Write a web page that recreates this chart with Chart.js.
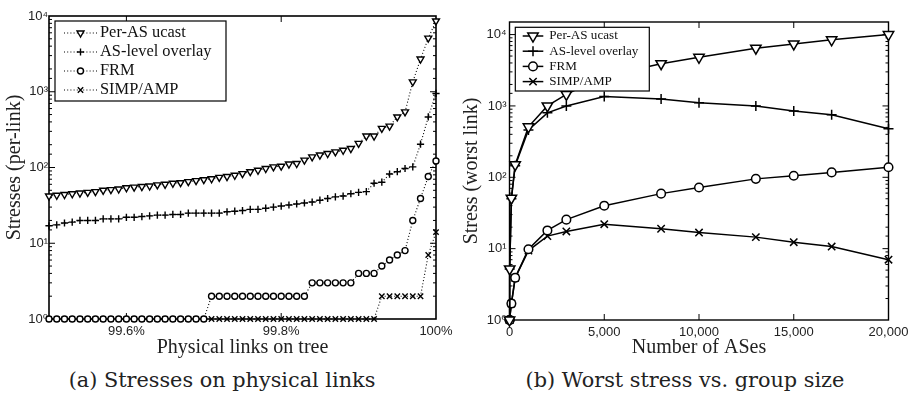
<!DOCTYPE html>
<html>
<head>
<meta charset="utf-8">
<script src="https://cdn.jsdelivr.net/npm/chart.js@4/dist/chart.umd.min.js"></script>
<style>
  body { margin: 0; width: 916px; height: 397px; background: #fff; position: relative; overflow: hidden; }
  canvas { position: absolute; top: 0; }
  .cap {
    position: absolute; top: 368px; transform: translateX(-50%);
    font: 20.8px 'DejaVu Serif', serif; line-height: 24px; color: #222; white-space: nowrap;
  }
</style>
</head>
<body>
<canvas id="chart-links" width="458" height="360" style="left:0"></canvas>
<canvas id="chart-size" width="458" height="360" style="left:458px"></canvas>
<div class="cap" style="left:222px">(a) Stresses on physical links</div>
<div class="cap" style="left:685px">(b) Worst stress vs. group size</div>
<script>
/* ── data: (a) per-link stress, sorted links ── */
const linkPct = [
  99.50, 99.51, 99.52, 99.53, 99.54, 99.55, 99.56, 99.57, 99.58, 99.59,
  99.60, 99.61, 99.62, 99.63, 99.64, 99.65, 99.66, 99.67, 99.68, 99.69,
  99.70, 99.71, 99.72, 99.73, 99.74, 99.75, 99.76, 99.77, 99.78, 99.79,
  99.80, 99.81, 99.82, 99.83, 99.84, 99.85, 99.86, 99.87, 99.88, 99.89,
  99.90, 99.91, 99.92, 99.93, 99.94, 99.95, 99.96, 99.97, 99.98, 99.99, 100.00
];
const perAsLinks = [
  42, 43, 44, 45, 46, 47, 48, 50, 51, 52,
  54, 55, 56, 57, 59, 60, 62, 63, 65, 67,
  69, 71, 74, 76, 79, 83, 88, 92, 97, 102,
  104, 111, 113, 125, 138, 146, 153, 161, 169, 178,
  208, 260, 260, 328, 352, 465, 543, 1350, 2700, 5100, 8600
];
const asLevelLinks = [
  17, 17.5, 18.5, 19, 20, 20, 20, 21, 21, 21,
  22, 22, 22.5, 23, 23.5, 23.5, 24, 24, 25, 25,
  25, 25, 25, 26, 26.5, 27, 28, 28, 29, 30,
  31, 32, 33, 34, 35, 37, 39, 41, 42, 45,
  47, 48, 62, 64, 82, 88, 97, 102, 203, 465, 950
];
const frmLinks = [
  1, 1, 1, 1, 1, 1, 1, 1, 1, 1,
  1, 1, 1, 1, 1, 1, 1, 1, 1, 1,
  1, 2, 2, 2, 2, 2, 2, 2, 2, 2,
  2, 2, 2, 2, 3, 3, 3, 3, 3, 3,
  4, 4, 4, 5, 6, 7, 8, 20, 39, 76, 122
];
const simpLinks = [
  1, 1, 1, 1, 1, 1, 1, 1, 1, 1,
  1, 1, 1, 1, 1, 1, 1, 1, 1, 1,
  1, 1, 1, 1, 1, 1, 1, 1, 1, 1,
  1, 1, 1, 1, 1, 1, 1, 1, 1, 1,
  1, 1, 1, 2, 2, 2, 2, 2, 2, 7, 14
];
const linkTicks = [99.6, 99.8, 100];

/* ── data: (b) worst link vs. number of ASes ── */
const numAses      = [1, 10, 100, 300, 1000, 2000, 3000, 5000, 8000, 10000, 13000, 15000, 17000, 20000];
const perAsWorst   = [1, 5.2, 51, 150, 510, 1000, 1450, 2600, 3900, 4800, 6450, 7400, 8450, 10000];
const asLevelWorst = [1, 5.2, 50, 145, 460, 800, 1000, 1350, 1250, 1110, 1000, 850, 750, 480];
const frmWorst     = [1, 1, 1.7, 3.9, 9.8, 18, 25.5, 40, 59, 72, 95, 105, 117, 138];
const simpWorst    = [1, 1, 1.7, 3.9, 9.4, 15, 17.4, 22, 19, 16.8, 14.5, 12.3, 10.7, 7];
const sizeTicks    = [0, 5000, 10000, 15000, 20000];

const seriesNames = ['Per-AS ucast', 'AS-level overlay', 'FRM', 'SIMP/AMP'];

Chart.defaults.font.family = '"Liberation Sans", "DejaVu Sans", sans-serif';
Chart.defaults.color = '#222';

const SUP = ['\u2070', '\u00b9', '\u00b2', '\u00b3', '\u2074', '\u2075'];
const isDecade = v => Math.abs(Math.log10(v) - Math.round(Math.log10(v))) < 1e-9;
const decadeLabel = v => isDecade(v) ? '10' + SUP[Math.round(Math.log10(v))] : '';

/* frame + inward tick marks, drawn under the data */
const frameTicks = {
  id: 'frameTicks',
  beforeDatasetsDraw(chart, args, o) {
    const { ctx, chartArea: a, scales: { x, y } } = chart;
    const seg = (x0, y0, x1, y1) => { ctx.beginPath(); ctx.moveTo(x0, y0); ctx.lineTo(x1, y1); ctx.stroke(); };
    ctx.save();
    ctx.strokeStyle = '#000';
    ctx.lineWidth = 1;
    y.ticks.forEach(t => {
      const py = y.getPixelForValue(t.value);
      if (py < a.top + 1 || py > a.bottom - 1) return;
      const len = isDecade(t.value) ? o.major : o.minor;
      seg(a.left, py, a.left + len, py);
      seg(a.right, py, a.right - len, py);
    });
    x.ticks.forEach(t => {
      const px = x.getPixelForValue(t.value);
      if (px < a.left + 1 || px > a.right - 1) return;
      seg(px, a.bottom, px, a.bottom - o.major);
      seg(px, a.top, px, a.top + o.major);
    });
    ctx.lineWidth = o.frame;
    ctx.strokeRect(a.left, a.top, a.width, a.height);
    ctx.restore();
  }
};

/* boxed legend with line sample + marker, drawn over the data */
const boxLegend = {
  id: 'boxLegend',
  afterDatasetsDraw(chart, args, o) {
    const ctx = chart.ctx;
    ctx.save();
    ctx.fillStyle = '#fff';
    ctx.fillRect(o.x, o.y, o.w, o.h);
    ctx.strokeStyle = '#000';
    ctx.lineWidth = 1.2;
    ctx.strokeRect(o.x, o.y, o.w, o.h);
    ctx.font = o.size + 'px "Liberation Serif", serif';
    ctx.textBaseline = 'middle';
    chart.data.datasets.forEach((ds, i) => {
      const cy = o.y + o.first + i * o.step;
      ctx.strokeStyle = '#000';
      ctx.lineWidth = ds.borderWidth;
      ctx.setLineDash(ds.borderDash || []);
      ctx.beginPath(); ctx.moveTo(o.lineFrom, cy); ctx.lineTo(o.lineTo, cy); ctx.stroke();
      ctx.setLineDash([]);
      ctx.fillStyle = '#fff';
      ctx.lineWidth = ds.pointBorderWidth;
      Chart.helpers.drawPoint(ctx, {
        pointStyle: ds.pointStyle, rotation: ds.pointRotation || 0,
        radius: ds.pointRadius, borderWidth: ds.pointBorderWidth
      }, (o.lineFrom + o.lineTo) / 2, cy);
      ctx.fillStyle = '#111';
      ctx.fillText(ds.label, o.textX, cy);
    });
    ctx.restore();
  }
};

function series(label, xs, ys, style, radius, opts) {
  return Object.assign({
    label,
    data: xs.map((x, i) => ({ x, y: ys[i] })),
    borderColor: '#000',
    backgroundColor: '#fff',
    pointBackgroundColor: '#fff',
    pointBorderColor: '#000',
    pointStyle: style,
    pointRadius: radius,
    tension: 0,
    clip: false,
  }, opts);
}

function axes(o) {
  return {
    x: {
      type: 'linear', min: o.xMin, max: o.xMax,
      grid: { display: false, drawTicks: false }, border: { display: false },
      afterBuildTicks: s => { s.ticks = o.xTicks.map(v => ({ value: v })); },
      afterFit: s => { s.height = o.xHeight; },
      ticks: { autoSkip: false, maxRotation: 0, padding: 5, font: { size: 13 }, callback: o.xLabel },
      title: { display: true, text: o.xTitle, padding: { top: 0, bottom: 0 },
               font: { family: '"Liberation Serif", serif', size: 20 } },
    },
    y: {
      type: 'logarithmic', min: 1, max: o.yMax,
      grid: { display: false, drawTicks: false }, border: { display: false },
      afterFit: s => { s.width = o.yWidth; },
      ticks: { autoSkip: false, padding: o.yPad, font: { size: 13 }, callback: decadeLabel },
      title: { display: true, text: o.yTitle, padding: { top: o.yTitlePad, bottom: 0 },
               font: { family: '"Liberation Serif", serif', size: 20 } },
    },
  };
}

/* ── (a) Stresses on physical links ── */
const dotted = { borderWidth: 1.1, borderDash: [1, 2.2], pointBorderWidth: 1.4 };
new Chart(document.getElementById('chart-links'), {
  type: 'line',
  data: {
    datasets: [
      series(seriesNames[0], linkPct, perAsLinks, 'triangle', 4, Object.assign({ pointRotation: 180 }, dotted)),
      series(seriesNames[1], linkPct, asLevelLinks, 'cross', 3.6, dotted),
      series(seriesNames[2], linkPct, frmLinks, 'circle', 3, dotted),
      series(seriesNames[3], linkPct, simpLinks, 'crossRot', 3.8, dotted),
    ],
  },
  options: {
    responsive: false,
    animation: false,
    layout: { padding: { left: 0, top: 16, right: 22, bottom: 0 } },
    plugins: {
      legend: { display: false },
      tooltip: { enabled: false },
      frameTicks: { major: 6, minor: 3, frame: 1.6 },
      boxLegend: { x: 55, y: 21, w: 171, h: 80, first: 12, step: 19,
                   lineFrom: 64, lineTo: 97, textX: 100, size: 16.4 },
    },
    scales: axes({
      xMin: 99.5, xMax: 100, xTicks: linkTicks, xHeight: 41,
      xLabel: v => (v === 100 ? '100' : v.toFixed(1)) + '%',
      xTitle: 'Physical links on tree',
      yMax: 10000, yWidth: 49, yPad: 1, yTitlePad: 3,
      yTitle: 'Stresses (per-link)',
    }),
  },
  plugins: [frameTicks, boxLegend],
});

/* ── (b) Worst stress vs. group size ── */
const solid = { borderWidth: 1.5, pointBorderWidth: 1.5 };
new Chart(document.getElementById('chart-size'), {
  type: 'line',
  data: {
    datasets: [
      series(seriesNames[0], numAses, perAsWorst, 'triangle', 6, Object.assign({ pointRotation: 180 }, solid)),
      series(seriesNames[1], numAses, asLevelWorst, 'cross', 5, solid),
      series(seriesNames[2], numAses, frmWorst, 'circle', 4.3, solid),
      series(seriesNames[3], numAses, simpWorst, 'crossRot', 5.2, solid),
    ],
  },
  options: {
    responsive: false,
    animation: false,
    layout: { padding: { left: 0, top: 22, right: 27.5, bottom: 0 } },
    plugins: {
      legend: { display: false },
      tooltip: { enabled: false },
      frameTicks: { major: 6, minor: 3, frame: 1.4 },
      boxLegend: { x: 57.3, y: 27.3, w: 134, h: 63.7, first: 8.7, step: 15.2,
                   lineFrom: 64.7, lineTo: 85.3, textX: 91.3, size: 13.1 },
    },
    scales: axes({
      xMin: 0, xMax: 20000, xTicks: sizeTicks, xHeight: 40,
      xLabel: v => v.toLocaleString('en-US'),
      xTitle: 'Number of ASes',
      yMax: 15000, yWidth: 51.5, yPad: 3, yTitlePad: 2,
      yTitle: 'Stress (worst link)',
    }),
  },
  plugins: [frameTicks, boxLegend],
});
</script>
</body>
</html>
